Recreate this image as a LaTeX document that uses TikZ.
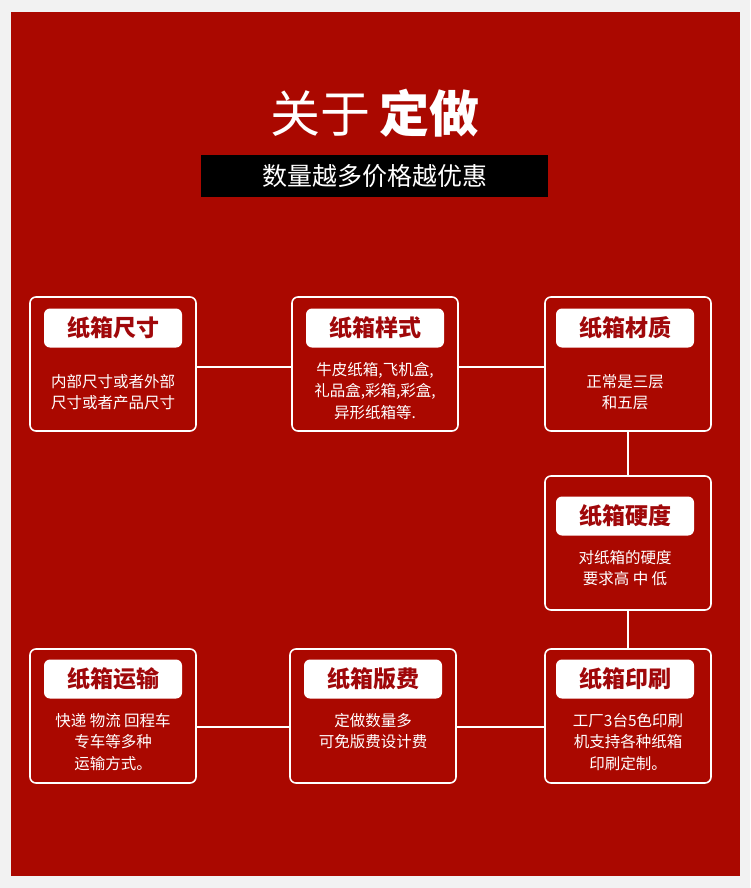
\documentclass[tikz,border=0pt]{standalone}
\usepackage{fontspec}
\newfontfamily\cjk{Noto Sans CJK SC}
\begin{document}
\begin{tikzpicture}[x=1pt,y=-1pt,
  card/.style={draw=white,line width=1.6pt,rounded corners=6pt},
  pill/.style={fill=white,rounded corners=6pt,minimum width=138pt,minimum height=39pt,text=dred,font=\cjk\bfseries\fontsize{23}{26}\selectfont},
  body/.style={text=white,align=center,font=\cjk\fontsize{15.5}{21.5}\selectfont},
  link/.style={draw=white,line width=1.5pt}]
\definecolor{dred}{HTML}{A0080A}
\definecolor{bg}{HTML}{AA0800}
\useasboundingbox (0,0) rectangle (750,888);
\fill[white!95!black] (0,0) rectangle (750,888);
\fill[bg] (11,12) rectangle (740,876);
\node[text=white,font=\cjk\fontsize{50}{56}\selectfont] (title) at (375,113) {关于\,{\bfseries 定做}};
\node[fill=black,minimum width=347pt,minimum height=42pt,text=white,font=\cjk\fontsize{25}{28}\selectfont] (sub) at (374.5,176) {数量越多价格越优惠};
% cards
\node[card,minimum width=166pt,minimum height=134pt] (c1) at (113,364) {};
\node[card,minimum width=166pt,minimum height=134pt] (c2) at (375,364) {};
\node[card,minimum width=166pt,minimum height=134pt] (c3) at (628,364) {};
\node[card,minimum width=166pt,minimum height=134pt] (c4) at (628,543) {};
\node[card,minimum width=166pt,minimum height=134pt] (c7) at (113,716) {};
\node[card,minimum width=166pt,minimum height=134pt] (c6) at (373,716) {};
\node[card,minimum width=166pt,minimum height=134pt] (c5) at (628,716) {};
% links
\draw[link] (c1.east |- 0,367) -- (c2.west |- 0,367);
\draw[link] (c2.east |- 0,367) -- (c3.west |- 0,367);
\draw[link] (c3.south) -- (c4.north);
\draw[link] (c4.south) -- (c5.north);
\draw[link] (c5.west |- 0,727) -- (c6.east |- 0,727);
\draw[link] (c6.west |- 0,727) -- (c7.east |- 0,727);
% pills
\node[pill] (p1) at (113,328) {纸箱尺寸};
\node[pill] (p2) at (375,328) {纸箱样式};
\node[pill] (p3) at (625,328) {纸箱材质};
\node[pill] (p4) at (625,516) {纸箱硬度};
\node[pill] (p7) at (113,679) {纸箱运输};
\node[pill] (p6) at (373,679) {纸箱版费};
\node[pill] (p5) at (625,679) {纸箱印刷};
% bodies
\node[body] (b1) at (113,392) {内部尺寸或者外部\\尺寸或者产品尺寸};
\node[body] (b2) at (375,391) {牛皮纸箱,飞机盒,\\礼品盒,彩箱,彩盒,\\异形纸箱等.};
\node[body] (b3) at (625,392) {正常是三层\\和五层};
\node[body] (b4) at (625,568) {对纸箱的硬度\\要求高 中 低};
\node[body] (b7) at (113,742) {快递 物流 回程车\\专车等多种\\运输方式。};
\node[body] (b6) at (373,731) {定做数量多\\可免版费设计费};
\node[body] (b5) at (628,742) {工厂3台5色印刷\\机支持各种纸箱\\印刷定制。};
\end{tikzpicture}
\end{document}
